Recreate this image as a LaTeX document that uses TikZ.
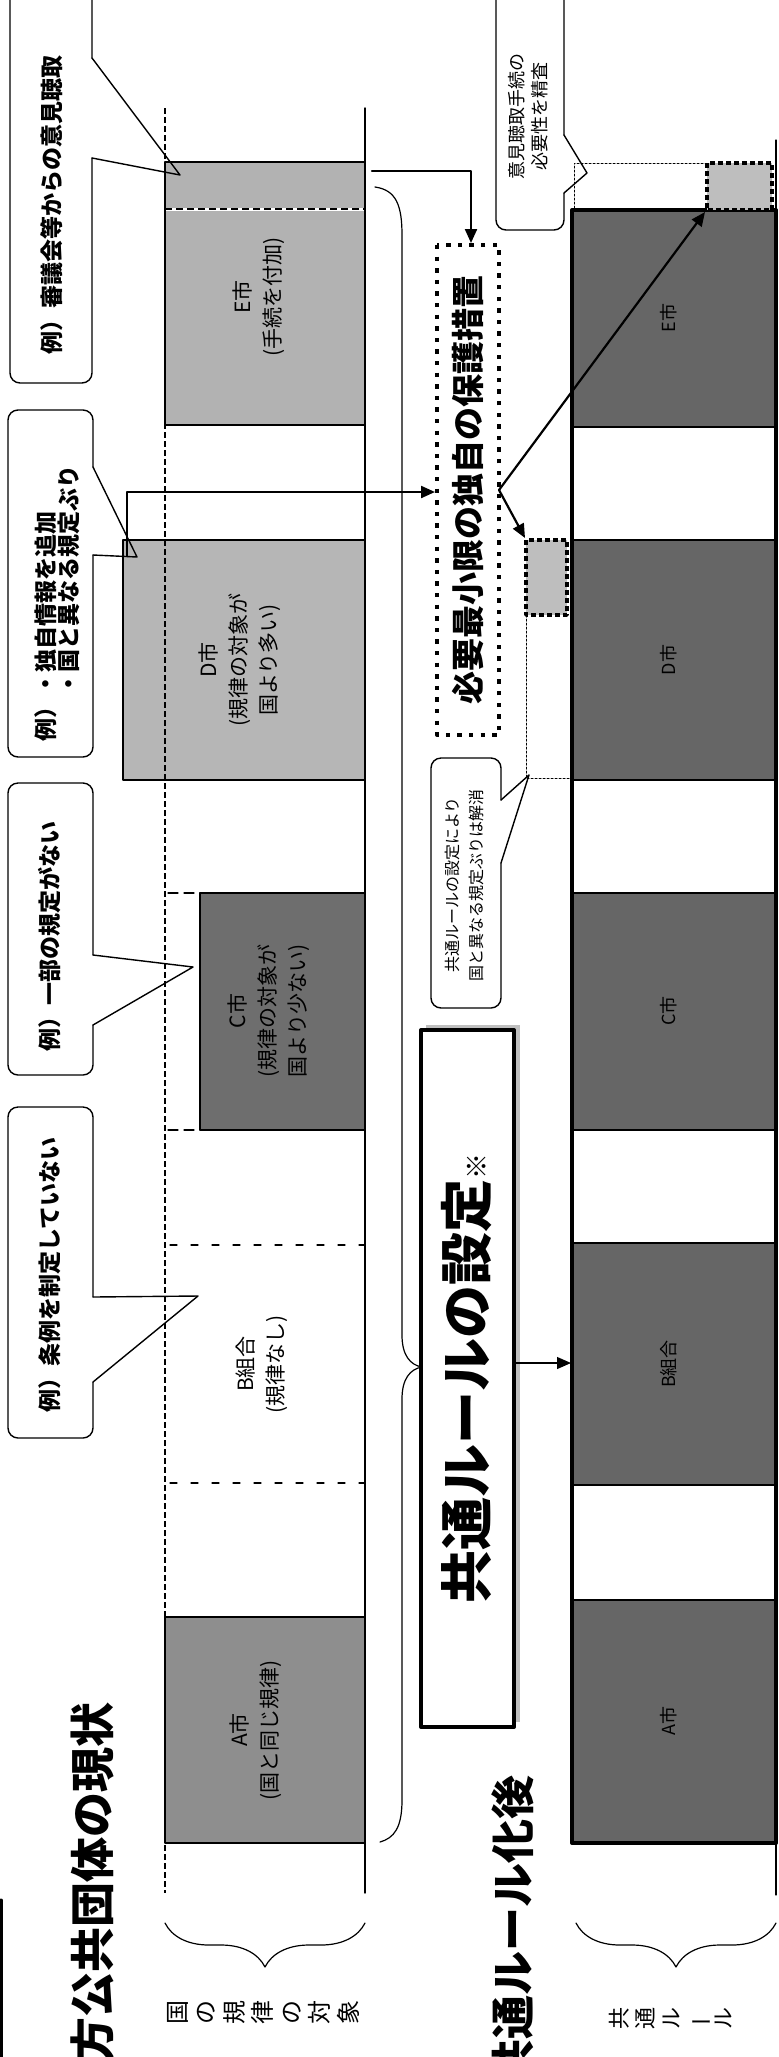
\documentclass[tikz,border=0pt]{standalone}
\usepackage{fontspec}
\setmainfont{Noto Sans CJK JP}
\usetikzlibrary{arrows.meta,decorations.pathreplacing}
\definecolor{grayE}{HTML}{B2B2B2}
\definecolor{grayD}{HTML}{B6B6B6}
\definecolor{grayC}{HTML}{6E6E6E}
\definecolor{grayA}{HTML}{8E8E8E}
\definecolor{grayL}{HTML}{666666}
\definecolor{grayX}{HTML}{BEBEBE}

\begin{document}
\begin{tikzpicture}[line cap=round,line join=round,>={Triangle[length=7pt,width=6pt]},x=0.5pt,y=-0.5pt,
  txt/.style={rotate=90,align=center,inner sep=0pt,font=\fontsize{10.5}{15}\selectfont},
  note/.style={rotate=90,align=center,inner sep=0pt,font=\bfseries\fontsize{11.5}{11.5}\selectfont},
  small/.style={rotate=90,align=center,inner sep=0pt,font=\fontsize{9}{11.5}\selectfont},
  bubble/.style={line width=0.7pt,rounded corners=5pt},
  thin/.style={line width=0.6pt},
  arr/.style={->,line width=1.1pt}]
\useasboundingbox (0,0) rectangle (779,2057);
\clip (0,0) rectangle (779,2057);

% upper chart: present state
\filldraw[thin,fill=grayE] (165,162) rectangle (365,425);
\draw[white,line width=1.5pt] (165,209)-- (365,209);
\draw[line width=1pt,line cap=butt,dash pattern=on 3.5pt off 2pt] (165,209)-- (365,209);
\filldraw[thin,fill=grayD] (123,540) rectangle (365,780);
\filldraw[thin,fill=grayC] (200,893) rectangle (365,1130);
\draw[thin,dash pattern=on 5pt off 3pt] (168,893)-- (200,893);
\draw[thin,dash pattern=on 5pt off 3pt] (168,1130)-- (200,1130);
\draw[thin,dash pattern=on 3.5pt off 7pt] (170,1245)-- (365,1245);
\draw[thin,dash pattern=on 3.5pt off 7pt] (170,1483)-- (365,1483);
\filldraw[thin,fill=grayA] (165,1617) rectangle (365,1843);
\draw[line width=0.7pt,line cap=butt,dash pattern=on 3pt off 1.5pt] (165,108)-- (165,1893);
\draw[line width=0.7pt] (365,108)-- (365,1893);
\draw[thin,decorate,decoration={brace,amplitude=22pt,mirror}] (165,1923)-- (365,1923);

% lower chart: after common rule
\draw[thin] (776,140)-- (776,1895);
\filldraw[thin,fill=grayL] (572,210) rectangle (776,427);
\filldraw[thin,fill=grayL] (572,540) rectangle (776,780);
\filldraw[thin,fill=grayL] (572,893) rectangle (776,1130);
\filldraw[thin,fill=grayL] (572,1243) rectangle (776,1485);
\filldraw[thin,fill=grayL] (572,1600) rectangle (776,1843);
\draw[line width=2pt] (572,210) rectangle (776,1843);
\draw[line width=0.5pt,dash pattern=on 1pt off 1pt] (707,163)-- (574,163)-- (574,210);
\draw[line width=0.5pt,dash pattern=on 1pt off 1pt] (526,615)-- (526,778)-- (572,778);
\draw[line width=1.7pt,line cap=butt,fill=grayX,dash pattern=on 2.5pt off 1.5pt] (707,163) rectangle (772,210);
\draw[line width=1.7pt,line cap=butt,fill=grayX,dash pattern=on 2.5pt off 1.5pt] (526,540) rectangle (567,615);
\draw[thin,decorate,decoration={brace,amplitude=22pt,mirror}] (576,1923)-- (776,1923);

% big brace and boxes in the middle
\draw[thin] (375,187) .. controls (396,190) and (402,205) .. (402,235)-- (402,1335)
  .. controls (402,1355) and (410,1365) .. (422,1367) .. controls (410,1369) and (402,1379) .. (402,1399)
  -- (402,1800) .. controls (402,1828) and (394,1838) .. (380,1842);
\fill[gray!50] (426,1025) rectangle (520,1722);
\draw[line width=2pt,fill=white] (421,1030) rectangle (514,1727);
\draw[line width=2pt,line cap=butt,dash pattern=on 2.2pt off 3.6pt] (437,245) rectangle (499,735);

% callouts
\draw[bubble] (92,58)-- (92,-20)-- (10,-20)-- (10,383)-- (92,383)-- (92,158);
\draw[line width=0.7pt] (92,158)-- (180,175)-- (92,58);
\draw[bubble] (93,467)-- (93,410)-- (8,410)-- (8,757)-- (93,757)-- (93,555);
\draw[line width=0.7pt] (93,555)-- (137,557)-- (93,467);
\draw[bubble] (93,955)-- (93,783)-- (8,783)-- (8,1075)-- (93,1075)-- (93,1025);
\draw[line width=0.7pt] (93,1025)-- (193,967)-- (93,955);
\draw[bubble] (93,1297)-- (93,1107)-- (8,1107)-- (8,1438)-- (93,1438)-- (93,1382);
\draw[line width=0.7pt] (93,1382)-- (198,1296)-- (93,1297);
\draw[bubble] (564,135)-- (564,-20)-- (496,-20)-- (496,230)-- (564,230)-- (564,193);
\draw[line width=0.7pt] (564,193)-- (587,173)-- (564,135);
\draw[bubble] (501,800)-- (501,758)-- (431,758)-- (431,1008)-- (501,1008)-- (501,863);
\draw[line width=0.7pt] (501,863)-- (529,775)-- (501,800);

% texts
\node[note] (exE) at (52,205) {例）審議会等からの意見聴取};
\node[note,align=left,anchor=west] (exD) at (57,742) {例）・独自情報を追加\\\phantom{例）}・国と異なる規定ぶり};
\node[note] (exC) at (50,936) {例）一部の規定がない};
\node[note] (exB) at (50,1275) {例）条例を制定していない};
\node[small] (exK) at (528,116) {意見聴取手続の\\必要性を精査};
\node[small,font=\fontsize{8}{12}\selectfont] (exR) at (464,885) {共通ルールの設定により\\国と異なる規定ぶりは解消};
\node[txt] (tE) at (259,297) {E市\\(手続を付加)};
\node[txt] (tD) at (240,660) {D市\\(規律の対象が\\国より多い)};
\node[txt] (tC) at (269,1011) {C市\\(規律の対象が\\国より少ない)};
\node[txt] (tB) at (262,1364) {B組合\\(規律なし)};
\node[txt] (tA) at (256,1730) {A市\\(国と同じ規律)};
\node[small] (lE) at (669,318) {E市};
\node[small] (lD) at (669,660) {D市};
\node[small] (lC) at (669,1011) {C市};
\node[small] (lB) at (669,1364) {B組合};
\node[small] (lA) at (669,1721) {A市};
\node[rotate=90,inner sep=0pt,font=\bfseries\fontsize{26.5}{30}\selectfont] (rule) at (467,1378) {共通ルールの設定{\fontsize{13}{13}\selectfont ※}};
\node[rotate=90,inner sep=0pt,font=\bfseries\fontsize{16.5}{20}\selectfont] (hogo) at (468,490) {必要最小限の独自の保護措置};
\node[rotate=90,anchor=east,inner sep=0pt,font=\bfseries\fontsize{22.5}{26}\selectfont] (genjo) at (92,1702) {地方公共団体の現状};
\node[rotate=90,anchor=east,inner sep=0pt,font=\bfseries\fontsize{22}{26}\selectfont] (kago) at (513,1775) {共通ルール化後};
\node[rotate=90,align=center,inner sep=0pt,font=\fontsize{12}{14.25}\selectfont] (kuni) at (263,2012) {国\\の\\規\\律\\の\\対\\象};
\node[rotate=90,align=center,inner sep=0pt,font=\fontsize{11}{13}\selectfont] (kyotsu) at (671,2018) {共\\通\\ル\\\rotatebox[origin=c]{90}{ー}\\ル};
\draw[line width=1.5pt] (1,1900)-- (1,2057);

% arrows
\coordinate (eExt) at (372,171);
\coordinate (hogoN) at (471,243);
\coordinate (dExt) at (127,556);
\coordinate (hogoW) at (435,492);
\coordinate (hogoE) at (499,490);
\coordinate (eSmall) at (705,212);
\coordinate (dSmall) at (525,538);
\coordinate (ruleE) at (514,1363);
\coordinate (lowB) at (571,1363);
\draw[arr] (eExt) -| (hogoN);
\draw[arr] (dExt) |- (hogoW);
\draw[arr] (hogoE)-- (eSmall);
\draw[arr] (hogoE)-- (dSmall);
\draw[->,thin] (ruleE)-- (lowB);
\end{tikzpicture}
\end{document}
